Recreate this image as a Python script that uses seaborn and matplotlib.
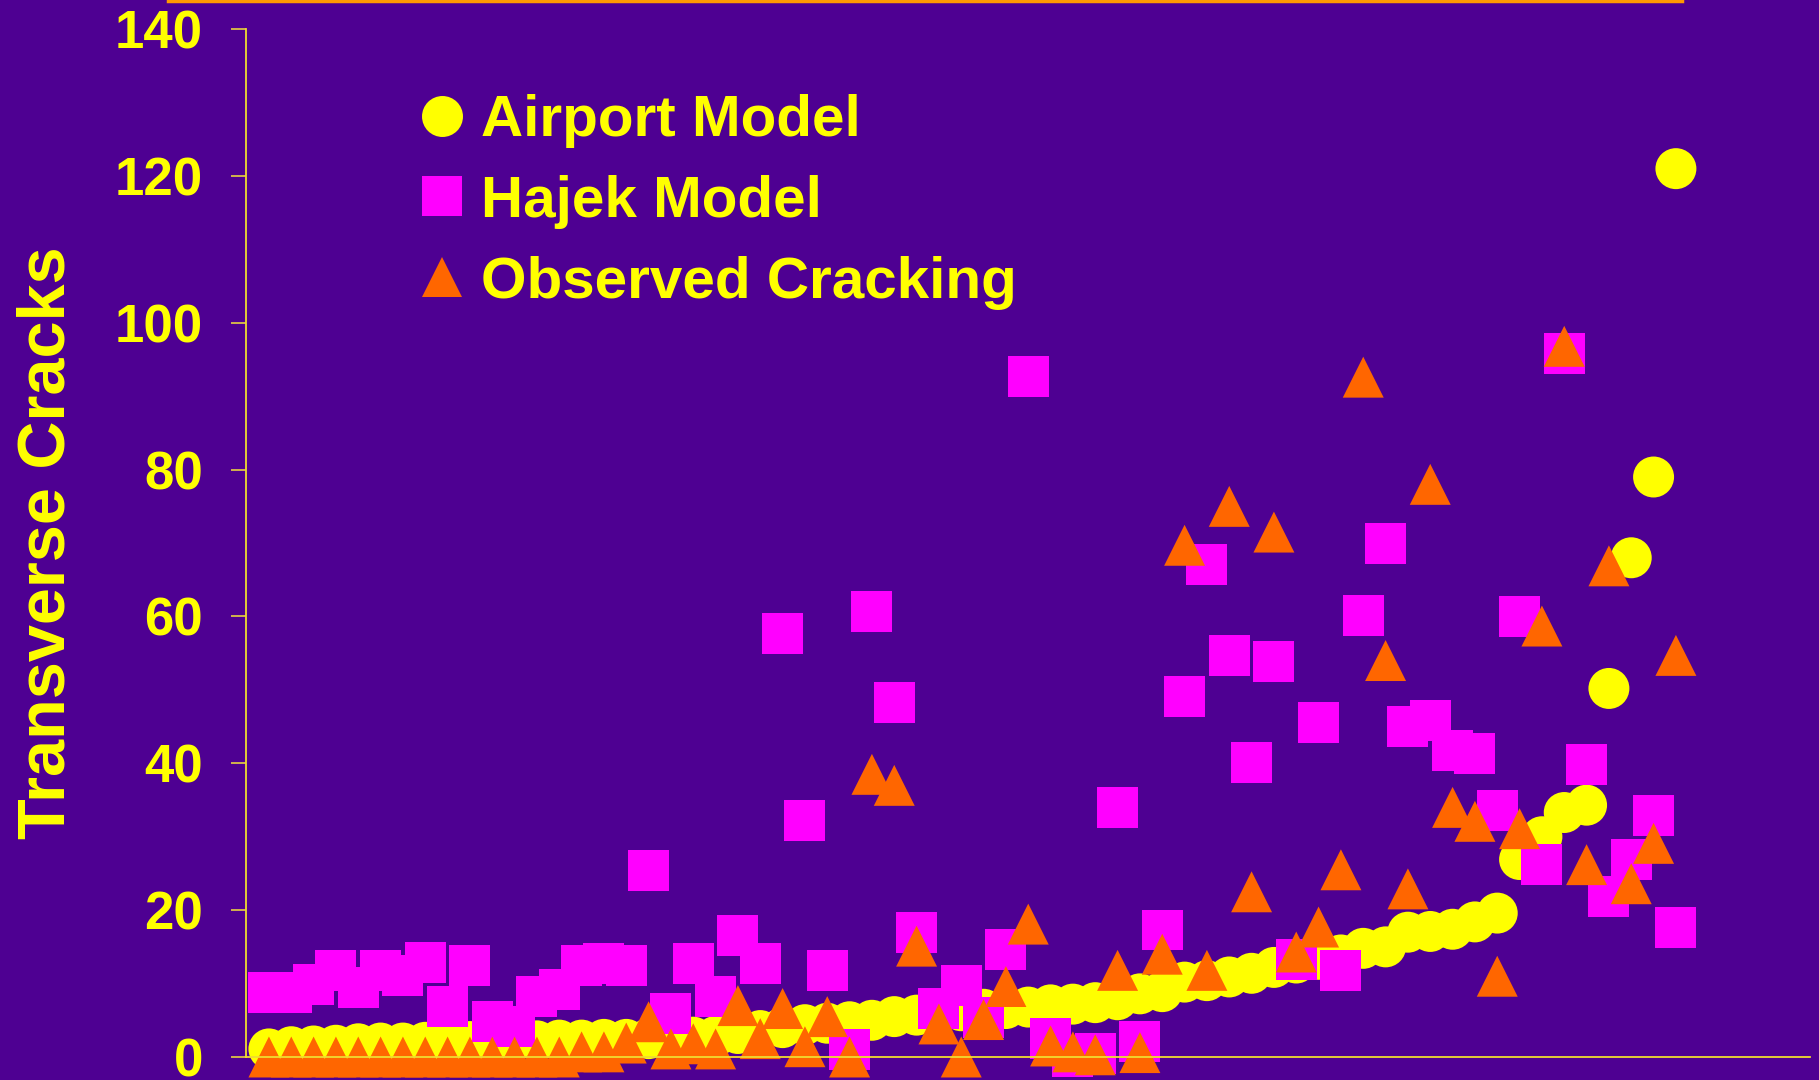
import matplotlib
matplotlib.use("Agg")
import matplotlib.pyplot as plt
from matplotlib.lines import Line2D
import seaborn as sns
import pandas as pd

# values, points sorted by the airport model prediction
airport_model = [1.1, 1.4, 1.5, 1.6, 1.8, 1.9, 1.9, 2.0, 2.0, 2.1, 2.1, 2.2, 2.2, 2.3, 2.3, 2.4,
                 2.4, 2.5, 2.6, 2.7, 2.8, 3.2, 3.6, 4.0, 4.4, 4.6, 4.8, 5.0, 5.5, 5.7, 6.0, 6.3,
                 6.5, 6.6, 6.8, 7.1, 7.2, 7.4, 7.8, 8.6, 8.9, 10.2, 10.4, 10.9, 11.4, 12.2, 12.8, 13.3,
                 13.9, 14.8, 15.0, 17.0, 17.1, 17.4, 18.4, 19.6, 26.9, 30.0, 33.3, 34.3, 50.2, 68.0, 79.0, 121.0]
hajek_model = [8.8, 8.8, 9.9, 11.8, 9.5, 11.8, 11.1, 12.9, 6.9, 12.5, 4.8, 4.1, 8.2, 9.2, 12.5, 12.8,
               12.5, 25.4, 5.9, 12.8, 8.2, 16.6, 12.8, 57.7, 32.2, 11.8, 1.0, 60.7, 48.3, 16.9, 6.6, 9.8,
               5.4, 14.7, 92.7, 2.5, 0.0, 0.5, 34.0, 2.1, 17.3, 49.1, 67.1, 54.7, 40.1, 53.9, 13.3, 45.5,
               11.8, 60.2, 70.0, 45.0, 45.8, 41.8, 41.3, 33.6, 60.0, 26.2, 95.8, 39.9, 21.8, 26.9, 32.9, 17.7]
observed = [0, 0, 0, 0, 0, 0, 0, 0, 0, 0, 0, 0, 0, 0, 0.7, 0.7,
            1.9, 4.8, 1.1, 1.8, 1.1, 7.0, 2.5, 6.6, 1.4, 5.5, 0.0, 38.5, 37.0, 15.1, 4.5, 0.0,
            5.1, 9.6, 18.1, 1.5, 0.7, 0.3, 11.8, 0.6, 14.0, 69.7, 11.8, 75.0, 22.5, 71.5, 14.3, 17.7,
            25.5, 92.6, 54.0, 22.9, 78.0, 34.0, 32.1, 11.0, 31.1, 58.7, 96.8, 26.2, 66.9, 23.6, 29.1, 54.7]
series_names = ['Airport Model', 'Hajek Model', 'Observed Cracking']
y_ticks = [0, 20, 40, 60, 80, 100, 120, 140]

BG = '#4E0092'
YELLOW = '#FFFF00'
colors = {'Airport Model': '#FFFF00', 'Hajek Model': '#FF00FF', 'Observed Cracking': '#FF6600'}
markers = {'Airport Model': 'o', 'Hajek Model': 's', 'Observed Cracking': '^'}

rows = []
for name, vals in zip(series_names, [airport_model, hajek_model, observed]):
    for i, v in enumerate(vals):
        rows.append({'point': i, 'cracks': v, 'series': name})
df = pd.DataFrame(rows)

plt.rcParams['font.family'] = ['Liberation Sans', 'DejaVu Sans']
plt.rcParams['font.weight'] = 'bold'

fig = plt.figure(figsize=(18.19, 10.80), dpi=100, facecolor=BG)
ax = fig.add_axes([0.1352, 0.0213, 0.8598, 0.9517])
ax.set_facecolor(BG)

sns.scatterplot(data=df, x='point', y='cracks', hue='series', style='series',
                palette=colors, markers=markers, s=870, linewidth=0, alpha=1,
                legend=False, clip_on=False, ax=ax)

ax.set_xlim(-1.03, 69)
ax.set_ylim(0, 140)
ax.set_yticks(y_ticks)
ax.set_yticklabels([str(t) for t in y_ticks], fontsize=38, fontweight='bold', color=YELLOW)
ax.set_xticks([])
ax.set_xlabel('')
ax.set_ylabel('Transverse Cracks', fontsize=48, fontweight='bold', color=YELLOW, labelpad=26)
ax.tick_params(axis='y', direction='out', length=11, width=1.2, color='#E8D040', pad=20)
for side in ['top', 'right']:
    ax.spines[side].set_visible(False)
for side in ['left', 'bottom']:
    ax.spines[side].set_color('#F0DC30')
    ax.spines[side].set_linewidth(1.3)

handles = [Line2D([], [], linestyle='none', marker=markers[n], markersize=29.5,
                  markerfacecolor=colors[n], markeredgewidth=0) for n in series_names]
leg = ax.legend(handles, series_names, loc='upper left', bbox_to_anchor=(0.231, 0.913),
                bbox_transform=fig.transFigure, frameon=False, fontsize=42,
                labelspacing=0.46, handlelength=0.75, handletextpad=0.3, borderpad=0,
                borderaxespad=0)
for t in leg.get_texts():
    t.set_color(YELLOW)
    t.set_fontweight('bold')

# orange rule at the very top of the slide
fig.add_artist(Line2D([168 / 1819, 1682 / 1819], [1 - 1.2 / 1080] * 2,
                      color='#FF9900', lw=2.5, transform=fig.transFigure))

fig.savefig('out.png', dpi=100, facecolor=BG)
